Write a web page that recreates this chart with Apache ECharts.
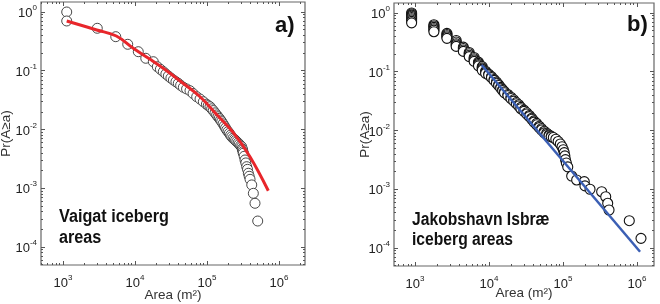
<!DOCTYPE html>
<html>
<head>
<meta charset="utf-8">
<script src="https://cdn.jsdelivr.net/npm/echarts@6/dist/echarts.min.js"></script>
<style>
  html, body { margin: 0; padding: 0; background: #fff; }
  #chart { width: 660px; height: 304px; }
</style>
</head>
<body>
<div id="chart"></div>
<script>
// panel a) Vaigat: [area m2, Pr(A>=a)]
const vaigatPoints = [
  [1125, 1.0], [1125, 0.703], [2990, 0.528], [5400, 0.380], [7920, 0.282],
  [11100, 0.211], [14100, 0.163], [17950, 0.1426], [20400, 0.117],
  [22500, 0.106], [24700, 0.0964], [26800, 0.088], [29000, 0.0814], [31500, 0.075],
  [34100, 0.0696], [37000, 0.065], [39900, 0.0611], [43000, 0.0565], [46900, 0.0523],
  [52000, 0.049], [58000, 0.0457], [64000, 0.041], [71900, 0.0361], [80000, 0.033],
  [88900, 0.0297], [98000, 0.027], [104000, 0.0255], [110000, 0.0244], [116000, 0.0225],
  [122000, 0.021], [129000, 0.0192], [136000, 0.0177], [142000, 0.0165], [148000, 0.0155],
  [154000, 0.0145], [160000, 0.0136], [167000, 0.0125], [174000, 0.0115], [181000, 0.0106],
  [188000, 0.0098], [196000, 0.0092], [204000, 0.0086], [212000, 0.008], [220000, 0.00753],
  [230000, 0.0071], [240000, 0.0068], [249000, 0.0065], [259000, 0.00619], [270000, 0.0059],
  [280000, 0.0056], [292000, 0.0053], [303000, 0.00509], [308000, 0.0047], [312000, 0.0045],
  [316000, 0.0042], [319000, 0.00394], [328000, 0.0035], [337000, 0.00303], [346000, 0.0027],
  [356000, 0.00233], [365000, 0.0021], [375000, 0.0018], [385000, 0.0016], [396000, 0.00142],
  [418000, 0.00114], [440000, 0.00082], [464000, 0.000555], [506000, 0.000277]
];
const vaigatFit = [
  [1125, 0.703], [2940, 0.494], [5500, 0.39], [9460, 0.241], [16000, 0.158],
  [27500, 0.100], [45000, 0.063], [80000, 0.0361], [140000, 0.0173],
  [232000, 0.00883], [395000, 0.00344], [710000, 0.000908]
];

// panel b) Jakobshavn Isbrae
const jakobPoints = [
  [900, 1.0], [900, 0.96], [900, 0.92], [900, 0.88], [900, 0.84], [900, 0.80], [900, 0.76], [900, 0.72], [900, 0.68],
  [1800, 0.63], [1800, 0.60], [1800, 0.57], [1800, 0.54], [1800, 0.51], [1800, 0.48],
  [2700, 0.45], [2700, 0.43], [2700, 0.41], [2700, 0.39], [2700, 0.37],
  [3600, 0.34], [3600, 0.32], [3600, 0.30], [3600, 0.285], [3600, 0.27],
  [4500, 0.262], [4500, 0.248], [4500, 0.235], [4500, 0.222],
  [5400, 0.213], [5400, 0.202], [5400, 0.191], [5400, 0.181],
  [6300, 0.175], [6300, 0.166], [6300, 0.158], [6300, 0.15],
  [7200, 0.146], [7200, 0.139], [7200, 0.132], [7200, 0.126],
  [8100, 0.122], [8100, 0.116], [8100, 0.111], [8100, 0.106],
  [9000, 0.102], [9000, 0.098], [9000, 0.094],
  [9900, 0.091], [9900, 0.088], [10800, 0.0825], [10800, 0.0795],
  [11700, 0.074], [11700, 0.0713], [12600, 0.067], [12600, 0.064],
  [13500, 0.060], [13500, 0.0582], [14400, 0.0543], [14400, 0.0525],
  [15300, 0.0496], [15300, 0.0479], [16200, 0.0456], [16200, 0.0439],
  [18000, 0.041], [18000, 0.0393], [19800, 0.0368], [19800, 0.035],
  [21600, 0.0333], [21600, 0.0316], [23400, 0.0299], [23400, 0.0286],
  [25200, 0.0274], [25200, 0.0261], [27000, 0.0248], [27000, 0.0235],
  [29700, 0.0222], [29700, 0.0212], [32400, 0.020], [32400, 0.0191],
  [35100, 0.018], [35100, 0.0172], [37800, 0.0162], [37800, 0.0155],
  [40500, 0.0146], [40500, 0.0139], [44100, 0.0132], [44100, 0.0125],
  [47700, 0.0118], [47700, 0.0112], [51300, 0.0107], [51300, 0.0102],
  [55800, 0.0097], [55800, 0.0091], [60300, 0.009], [60300, 0.0085],
  [64800, 0.0084], [64800, 0.0081], [69300, 0.008], [69300, 0.0078],
  [74000, 0.0076], [80000, 0.0071], [86000, 0.0065], [92000, 0.0059], [97000, 0.0053],
  [101000, 0.0047], [104000, 0.0042], [106000, 0.0037], [108000, 0.0032], [111000, 0.0028],
  [116000, 0.0024], [131000, 0.00168], [153000, 0.00144], [194000, 0.00135], [198000, 0.00114],
  [232000, 0.0010], [333000, 0.000908], [378000, 0.000747], [402000, 0.000577],
  [419000, 0.000444], [787000, 0.000292], [1133000, 0.000146]
];
const jakobFit = [[7960, 0.130], [1100000, 0.0000865]];

const xMajor = [1e3, 1e4, 1e5, 1e6];
const yMajor = [1e-4, 1e-3, 1e-2, 1e-1, 1];

function minorTicks(lo, hi) {
  const out = [];
  for (let e = lo; e <= hi; e++) {
    for (let m = 2; m <= 9; m++) out.push(m * Math.pow(10, e));
  }
  return out;
}
const xMinor = minorTicks(2, 6);
const yMinor = minorTicks(-5, 0);

const FONT = "'Liberation Sans', Arial, sans-serif";
const powFmt = v => '{b|10}{s|' + Math.round(Math.log10(v)) + '}';
const powRich = {
  b: { fontSize: 13, lineHeight: 16, verticalAlign: 'bottom', color: '#222', fontFamily: FONT },
  s: { fontSize: 8, lineHeight: 10, verticalAlign: 'top', color: '#222', fontFamily: FONT }
};

function axes(dim, grid, min, max, major, minor, name, nameGap) {
  const pos = dim === 'x' ? ['bottom', 'top'] : ['left', 'right'];
  const base = {
    type: 'log', logBase: 10, gridIndex: grid, min: min, max: max,
    axisLine: { show: false }, splitLine: { show: false },
    axisLabel: { show: false }, minorTick: { show: false }
  };
  const tick = (vals, len) => ({ show: true, inside: true, length: len, customValues: vals,
    lineStyle: { color: '#555', width: 1 } });
  return [
    Object.assign({}, base, {
      position: pos[0], axisTick: tick(major, 4),
      axisLabel: { show: true, customValues: major, formatter: powFmt, rich: powRich,
        margin: dim === 'x' ? 9 : 4 },
      name: name, nameLocation: 'middle', nameGap: nameGap, nameMoveOverlap: false,
      nameTextStyle: { fontSize: 13.5, color: '#333', fontFamily: FONT }
    }),
    Object.assign({}, base, { position: pos[1], axisTick: tick(major, 4) }),
    Object.assign({}, base, { position: pos[0], axisTick: tick(minor, 2) }),
    Object.assign({}, base, { position: pos[1], axisTick: tick(minor, 2) })
  ];
}

const xAxes = [].concat(
  axes('x', 0, Math.pow(10, 2.694), Math.pow(10, 6.361), xMajor, xMinor, 'Area (m²)', 23),
  axes('x', 1, Math.pow(10, 2.716), Math.pow(10, 6.23), xMajor, xMinor, 'Area (m²)', 20)
);
const yAxes = [].concat(
  axes('y', 0, Math.pow(10, -4.306), Math.pow(10, 0.17), yMajor, yMinor, 'Pr(A≥a)', 28),
  axes('y', 1, Math.pow(10, -4.306), Math.pow(10, 0.17), yMajor, yMinor, 'Pr(A≥a)', 22)
);
yAxes.forEach(a => { if (a.name) a.nameRotate = 90; });

const chart = echarts.init(document.getElementById('chart'));
const option = {
  animation: false,
  backgroundColor: '#fff',
  grid: [
    { left: 41, top: 2, width: 264, height: 263, show: true, borderColor: '#666', borderWidth: 1.2,
      containLabel: false, outerBoundsMode: 'none' },
    { left: 394, top: 3, width: 260, height: 263, show: true, borderColor: '#666', borderWidth: 1.2,
      containLabel: false, outerBoundsMode: 'none' }
  ],
  xAxis: xAxes,
  yAxis: yAxes,
  graphic: [
    { type: 'text', left: 275, top: 15, style: { text: 'a)', font: "bold 22px " + FONT, fill: '#111' } },
    { type: 'text', left: 627, top: 14, style: { text: 'b)', font: "bold 22px " + FONT, fill: '#111' } },
    { type: 'text', left: 59, top: 207, scaleX: 0.9,
      style: { text: 'Vaigat iceberg\nareas', font: "bold 18px " + FONT, lineHeight: 21, fill: '#111' } },
    { type: 'text', left: 412, top: 210, scaleX: 0.87,
      style: { text: 'Jakobshavn Isbræ\niceberg areas', font: "bold 18px " + FONT, lineHeight: 20, fill: '#111' } }
  ],
  series: [
    {
      type: 'scatter', xAxisIndex: 0, yAxisIndex: 0, data: vaigatPoints, symbol: 'circle', symbolSize: 10,
      itemStyle: { color: '#fff', borderColor: '#333', borderWidth: 0.9, opacity: 1 }, silent: true
    },
    {
      type: 'line', xAxisIndex: 0, yAxisIndex: 0, data: vaigatFit, smooth: 0.4, showSymbol: false, z: 5,
      lineStyle: { color: '#e8262b', width: 3 }, silent: true
    },
    {
      type: 'scatter', xAxisIndex: 4, yAxisIndex: 4, data: jakobPoints, symbol: 'circle', symbolSize: 10,
      itemStyle: { color: '#fff', borderColor: '#111', borderWidth: 1.1, opacity: 1 }, silent: true
    },
    {
      type: 'line', xAxisIndex: 4, yAxisIndex: 4, data: jakobFit, showSymbol: false, z: 5,
      lineStyle: { color: '#3b5fb4', width: 2.5 }, silent: true
    }
  ]
};
chart.setOption(option);
</script>
</body>
</html>
